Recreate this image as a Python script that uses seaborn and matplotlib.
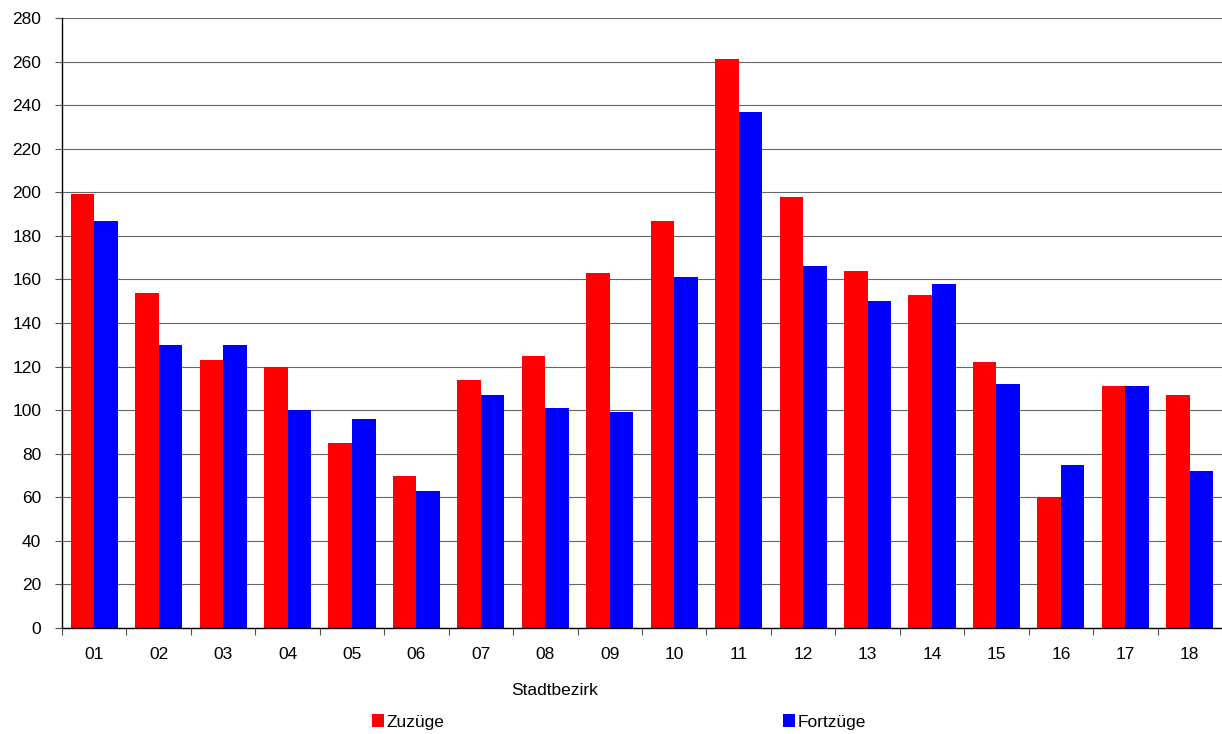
import pandas as pd
import seaborn as sns
import matplotlib.pyplot as plt

# Zu- und Fortzüge nach Stadtbezirk
districts = ['01', '02', '03', '04', '05', '06', '07', '08', '09',
             '10', '11', '12', '13', '14', '15', '16', '17', '18']
zuzuege = [199, 154, 123, 120, 85, 70, 114, 125, 163,
           187, 261, 198, 164, 153, 122, 60, 111, 107]
fortzuege = [187, 130, 130, 100, 96, 63, 107, 101, 99,
             161, 237, 166, 150, 158, 112, 75, 111, 72]
series_names = ['Zuzüge', 'Fortzüge']
colors = ['#FF0000', '#0000FF']

df = pd.DataFrame({
    'Stadtbezirk': districts * 2,
    'Anzahl': zuzuege + fortzuege,
    'Serie': [series_names[0]] * len(districts) + [series_names[1]] * len(districts),
})

sns.set_style('white')
plt.rcParams['font.family'] = ['Liberation Sans', 'DejaVu Sans']
for key in ['text.color', 'axes.labelcolor', 'xtick.color', 'ytick.color']:
    plt.rcParams[key] = 'black'
fs = 12.5

fig = plt.figure(figsize=(12.22, 7.34), dpi=100)
ax = fig.add_axes([62 / 1222, 106 / 734, 1160 / 1222, 610 / 734])

sns.barplot(data=df, x='Stadtbezirk', y='Anzahl', hue='Serie',
            palette=colors, saturation=1, width=0.73, linewidth=0, ax=ax)

ax.set_xlim(-0.5, len(districts) - 0.5)
ax.set_ylim(0, 280)
ax.set_yticks(range(0, 281, 20))

ax.yaxis.grid(True, color='#666666', linewidth=0.8)
ax.set_axisbelow(True)

for side in ['top', 'right']:
    ax.spines[side].set_visible(False)
for side in ['left', 'bottom']:
    ax.spines[side].set_color('black')
    ax.spines[side].set_linewidth(1.0)

# ticks between the districts, labels in the middle
ax.set_xticks([i + 0.5 for i in range(-1, len(districts))], minor=True)
ax.tick_params(axis='x', which='major', length=0, pad=14, labelsize=fs, labelcolor='black')
ax.tick_params(axis='x', which='minor', length=5, width=0.8, color='#555555', direction='out')
ax.tick_params(axis='y', length=5, width=0.8, color='#555555', direction='out', pad=10,
               labelsize=fs, labelcolor='black')
ax.tick_params(bottom=True, left=True, which='both')

ax.set_ylabel('')
ax.set_xlabel('Stadtbezirk', fontsize=fs, color='black')
ax.xaxis.set_label_coords(0.425, -0.102)
ax.xaxis.label.set_va('center')

sns.move_legend(ax, 'center left', bbox_to_anchor=(372 / 1222, 12 / 734),
                bbox_transform=fig.transFigure, ncol=2, frameon=False, title=None,
                fontsize=fs, handlelength=0.7, handleheight=0.7, handletextpad=0.15,
                columnspacing=19.5, borderpad=0, borderaxespad=0)
for t in ax.get_legend().get_texts():
    t.set_color('black')

fig.savefig('out.png', dpi=100)
